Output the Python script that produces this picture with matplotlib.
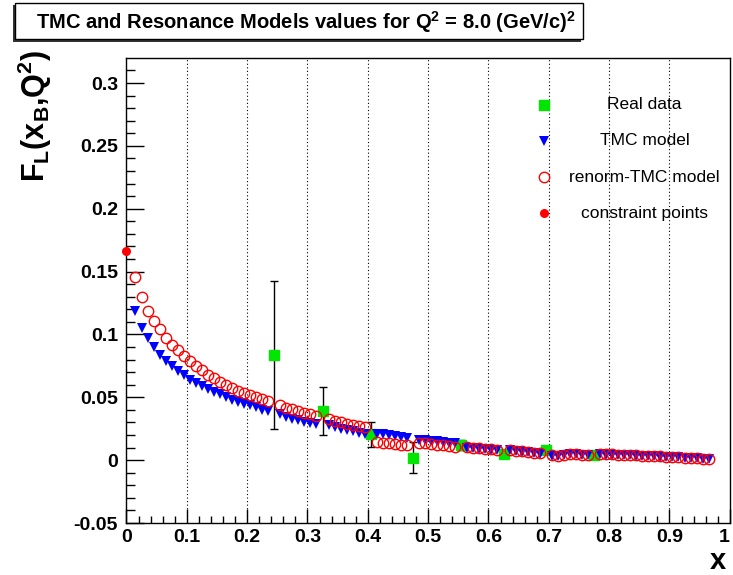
import numpy as np
import matplotlib.pyplot as plt
from matplotlib.patches import Rectangle

plt.rcParams['font.family'] = ['Liberation Sans', 'DejaVu Sans']
plt.rcParams['font.weight'] = 'bold'
plt.rcParams['mathtext.fontset'] = 'custom'
plt.rcParams['mathtext.rm'] = 'Liberation Sans:bold'
plt.rcParams['mathtext.it'] = 'Liberation Sans:bold'
plt.rcParams['mathtext.bf'] = 'Liberation Sans:bold'
plt.rcParams['mathtext.default'] = 'regular'

# measured F_L points
data_x = [0.245, 0.325, 0.405, 0.475, 0.555, 0.625, 0.695, 0.775]
data_y = [0.0835, 0.0392, 0.0205, 0.0019, 0.0119, 0.0052, 0.0078, 0.0040]
data_err = [0.059, 0.019, 0.0098, 0.0124, 0.0042, 0.0012, 0.0012, 0.0010]

# model grid (bins between the measured points)
model_x = [0.015, 0.025, 0.035, 0.045, 0.055, 0.065, 0.075, 0.085, 0.095, 0.105,
           0.115, 0.125, 0.135, 0.145, 0.155, 0.165, 0.175, 0.185, 0.195, 0.205,
           0.215, 0.225, 0.235,
           0.255, 0.265, 0.275, 0.285, 0.295, 0.305, 0.315,
           0.335, 0.345, 0.355, 0.365, 0.375, 0.385, 0.395,
           0.415, 0.425, 0.435, 0.445, 0.455, 0.465,
           0.485, 0.495, 0.505, 0.515, 0.525, 0.535, 0.545,
           0.565, 0.575, 0.585, 0.595, 0.605, 0.615,
           0.635, 0.645, 0.655, 0.665, 0.675, 0.685,
           0.705, 0.715, 0.725, 0.735, 0.745, 0.755, 0.765,
           0.785, 0.795, 0.805, 0.815, 0.825, 0.835, 0.845, 0.855, 0.865, 0.875,
           0.885, 0.895, 0.905, 0.915, 0.925, 0.935, 0.945, 0.955, 0.965]

tmc_y = [0.1185, 0.1055, 0.0970, 0.0900, 0.0840, 0.0790, 0.0750, 0.0710, 0.0676, 0.0640,
         0.0615, 0.0589, 0.0565, 0.0543, 0.0523, 0.0500, 0.0480, 0.0462, 0.0450, 0.0436,
         0.0420, 0.0402, 0.0390,
         0.0366, 0.0345, 0.0330, 0.0318, 0.0305, 0.0297, 0.0286,
         0.0280, 0.0260, 0.0250, 0.0240, 0.0233, 0.0220, 0.0212,
         0.0212, 0.0205, 0.0198, 0.0190, 0.0184, 0.0178,
         0.0162, 0.0158, 0.0154, 0.0149, 0.0145, 0.0140, 0.0136,
         0.0100, 0.0095, 0.0091, 0.0087, 0.0083, 0.0078,
         0.0079, 0.0073, 0.0068, 0.0062, 0.0057, 0.0052,
         0.0037, 0.0032, 0.0039, 0.0049, 0.0046, 0.0042, 0.0039,
         0.0047, 0.0045, 0.0044, 0.0042, 0.0041, 0.0039, 0.0037, 0.0035, 0.0032, 0.0030,
         0.0028, 0.0026, 0.0024, 0.0022, 0.0019, 0.0017, 0.0014, 0.0011, 0.0008]

renorm_y = [0.1460, 0.1300, 0.1190, 0.1106, 0.1040, 0.0973, 0.0920, 0.0875, 0.0827, 0.0790,
            0.0750, 0.0716, 0.0680, 0.0650, 0.0624, 0.0600, 0.0576, 0.0552, 0.0536, 0.0521,
            0.0506, 0.0490, 0.0467,
            0.0438, 0.0416, 0.0406, 0.0390, 0.0377, 0.0366, 0.0350,
            0.0326, 0.0315, 0.0302, 0.0290, 0.0280, 0.0270, 0.0260,
            0.0146, 0.0140, 0.0135, 0.0130, 0.0124, 0.0119,
            0.0138, 0.0134, 0.0128, 0.0123, 0.0117, 0.0112, 0.0106,
            0.0104, 0.0099, 0.0094, 0.0089, 0.0085, 0.0080,
            0.0082, 0.0076, 0.0070, 0.0064, 0.0059, 0.0054,
            0.0039, 0.0034, 0.0041, 0.0051, 0.0048, 0.0044, 0.0041,
            0.0049, 0.0047, 0.0046, 0.0044, 0.0043, 0.0041, 0.0039, 0.0037, 0.0034, 0.0032,
            0.0030, 0.0028, 0.0026, 0.0024, 0.0021, 0.0019, 0.0016, 0.0013, 0.0010]

constraint_x = [0.0]
constraint_y = [0.166]

legend_labels = ["Real data", "TMC model", "renorm-TMC model", "constraint points"]
x_labels = ['0', '0.1', '0.2', '0.3', '0.4', '0.5', '0.6', '0.7', '0.8', '0.9', '1']
y_labels = ['-0.05', '0', '0.05', '0.1', '0.15', '0.2', '0.25', '0.3']

W, H = 733, 575
fig = plt.figure(figsize=(W / 100, H / 100), dpi=100)
ax = fig.add_axes([0.1725, 0.0904, 0.8231, 0.8089])

# vertical dotted grid
for gx in np.arange(0.1, 1.0, 0.1):
    ax.axvline(gx, color='black', lw=0.8, ls=(0, (1, 2.2)), zorder=0)

green = '#00e600'
ax.errorbar(data_x, data_y, yerr=data_err, fmt='s', color=green, ms=6.5,
            ecolor='black', elinewidth=1, capsize=3, capthick=1, zorder=2)
ax.plot(model_x, tmc_y, 'v', color='blue', ms=7, mew=0, zorder=3)
ax.plot(model_x, renorm_y, 'o', mfc='none', mec='red', ms=7.5, mew=1, zorder=4)
ax.plot(constraint_x, constraint_y, 'o', color='red', ms=6.5, mew=0, zorder=5,
        clip_on=False)

ax.set_xlim(0, 1)
ax.set_ylim(-0.05, 0.32)
ax.set_xticks(np.arange(0, 1.01, 0.1))
ax.set_xticklabels(x_labels)
ax.get_xticklabels()[-1].set_horizontalalignment('right')
ax.set_xticks(np.arange(0, 1.001, 0.02), minor=True)
ax.set_yticks(np.arange(-0.05, 0.31, 0.05))
ax.set_yticklabels(y_labels)
ax.set_yticks(np.arange(-0.05, 0.32, 0.01), minor=True)
ax.tick_params(axis='both', which='both', direction='in', labelsize=14, colors='black')
ax.tick_params(axis='y', which='major', length=13, width=1, pad=6)
ax.tick_params(axis='y', which='minor', length=6.5, width=1)
ax.tick_params(axis='x', which='major', length=10, width=1, pad=4)
ax.tick_params(axis='x', which='minor', length=5, width=1)
for s in ax.spines.values():
    s.set_linewidth(1)

# legend, no frame, labels centred
key_x = 0.692
text_x = 0.859
rows = [0.899, 0.822, 0.743, 0.666]
ax.plot(key_x, rows[0], 's', color=green, ms=6.5, transform=ax.transAxes)
ax.plot(key_x, rows[1], 'v', color='blue', ms=7, mew=0, transform=ax.transAxes)
ax.plot(key_x, rows[2], 'o', mfc='none', mec='red', ms=7.5, mew=1, transform=ax.transAxes)
ax.plot(key_x, rows[3], 'o', color='red', ms=6.5, mew=0, transform=ax.transAxes)
for lab, ry in zip(legend_labels, rows):
    ax.text(text_x, ry, lab, transform=ax.transAxes, ha='center', va='center',
            fontsize=12.5, fontweight='normal')

# axis titles
fig.text(0.048, 1 - 50 / H, r'F$_{L}$(x$_{B}$,Q$^{2}$)', rotation=90,
         ha='center', va='top', fontsize=22, fontweight='bold')
fig.text(0.991, 0.0, 'x', ha='right', va='bottom', fontsize=21, fontweight='bold')

# title box with shadow at lower left
fig.patches.append(Rectangle((13 / W, 1 - 42 / H), 568 / W, 37 / H,
                             transform=fig.transFigure, facecolor='#333333',
                             edgecolor='none', zorder=1))
fig.patches.append(Rectangle((15 / W, 1 - 39 / H), 568 / W, 36 / H,
                             transform=fig.transFigure, facecolor='white',
                             edgecolor='black', lw=1, zorder=2))
fig.text(306 / W, 1 - 22 / H, r'TMC and Resonance Models values for Q$^{2}$ = 8.0 (GeV/c)$^{2}$',
         ha='center', va='center', fontsize=14.5, fontweight='bold', zorder=3)

fig.savefig('out.png', dpi=100)
